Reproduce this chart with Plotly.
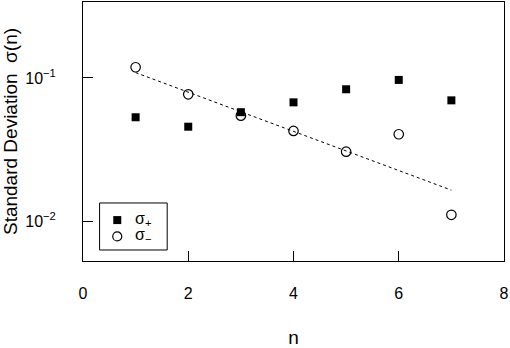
import plotly.graph_objects as go

n = [1, 2, 3, 4, 5, 6, 7]
sigma_plus = [0.0532, 0.0457, 0.0577, 0.0676, 0.0834, 0.0969, 0.0698]
sigma_minus = [0.1188, 0.0769, 0.0546, 0.0427, 0.0306, 0.0405, 0.0111]
fit_n = [1, 7]
fit_vals = [0.109, 0.0165]
x_ticks = [0, 2, 4, 6, 8]
y_ticks = [0.01, 0.1]
y_ticktext = ["10<sup>\u22122</sup>", "10<sup>\u22121</sup>"]
legend_labels = ["\u03c3<sub>+</sub>", "\u03c3<sub>\u2212</sub>"]

FONT = "Liberation Sans, Arial, Helvetica, sans-serif"

fig = go.Figure()
fig.add_trace(go.Scatter(x=fit_n, y=fit_vals, mode="lines",
                         line=dict(color="black", width=1, dash="3px,3px"),
                         showlegend=False, hoverinfo="skip"))
fig.add_trace(go.Scatter(x=n, y=sigma_plus, mode="markers", name=legend_labels[0],
                         showlegend=False,
                         marker=dict(symbol="square", size=8, color="black",
                                     line=dict(width=0))))
fig.add_trace(go.Scatter(x=n, y=sigma_minus, mode="markers", name=legend_labels[1],
                         showlegend=False,
                         marker=dict(symbol="circle-open", size=9.5, color="black",
                                     line=dict(width=1.2, color="black"))))

# Manual legend (R-style boxed legend)
shapes = [
    dict(type="rect", xref="paper", yref="paper", x0=0.0394, x1=0.200,
         y0=0.0425, y1=0.224, line=dict(color="black", width=1),
         fillcolor="white", layer="above"),
    dict(type="rect", xref="paper", yref="paper", xsizemode="pixel",
         ysizemode="pixel", xanchor=0.0814, yanchor=0.158,
         x0=-4, x1=4, y0=-4, y1=4, fillcolor="black",
         line=dict(width=0), layer="above"),
    dict(type="circle", xref="paper", yref="paper", xsizemode="pixel",
         ysizemode="pixel", xanchor=0.0814, yanchor=0.095,
         x0=-4.5, x1=4.5, y0=-4.5, y1=4.5, fillcolor="rgba(0,0,0,0)",
         line=dict(width=1.2, color="black"), layer="above"),
]
annotations = [
    dict(xref="paper", yref="paper", x=0.119, y=0.162, text=legend_labels[0],
         showarrow=False, xanchor="left", yanchor="middle", font=dict(size=16)),
    dict(xref="paper", yref="paper", x=0.119, y=0.100, text=legend_labels[1],
         showarrow=False, xanchor="left", yanchor="middle", font=dict(size=16)),
]

fig.update_layout(
    width=510, height=348,
    margin=dict(l=83, r=6, t=2, b=87),
    paper_bgcolor="white", plot_bgcolor="white",
    font=dict(family=FONT, size=16, color="black"),
    showlegend=False,
    shapes=shapes,
    annotations=annotations,
    xaxis=dict(range=[0, 8], tickvals=x_ticks, ticks="inside", ticklen=10,
               tickcolor="black", showline=True, linecolor="black", linewidth=1,
               mirror=True, showgrid=False, zeroline=False, automargin=False,
               ticklabelstandoff=18,
               title=dict(text="n", standoff=35)),
    yaxis=dict(type="log", range=[-2.277, -0.470], tickvals=y_ticks,
               ticktext=y_ticktext, ticks="inside", ticklen=10,
               tickcolor="black", showline=True, linecolor="black", linewidth=1,
               mirror=True, showgrid=False, zeroline=False, automargin=False,
               ticklabelstandoff=23,
               title=dict(text="Standard Deviation  \u03c3(n)", standoff=8)),
)

fig.write_html("out.html", config={"displayModeBar": False},
               post_script="document.body.style.margin='0';document.body.style.overflow='hidden';")
